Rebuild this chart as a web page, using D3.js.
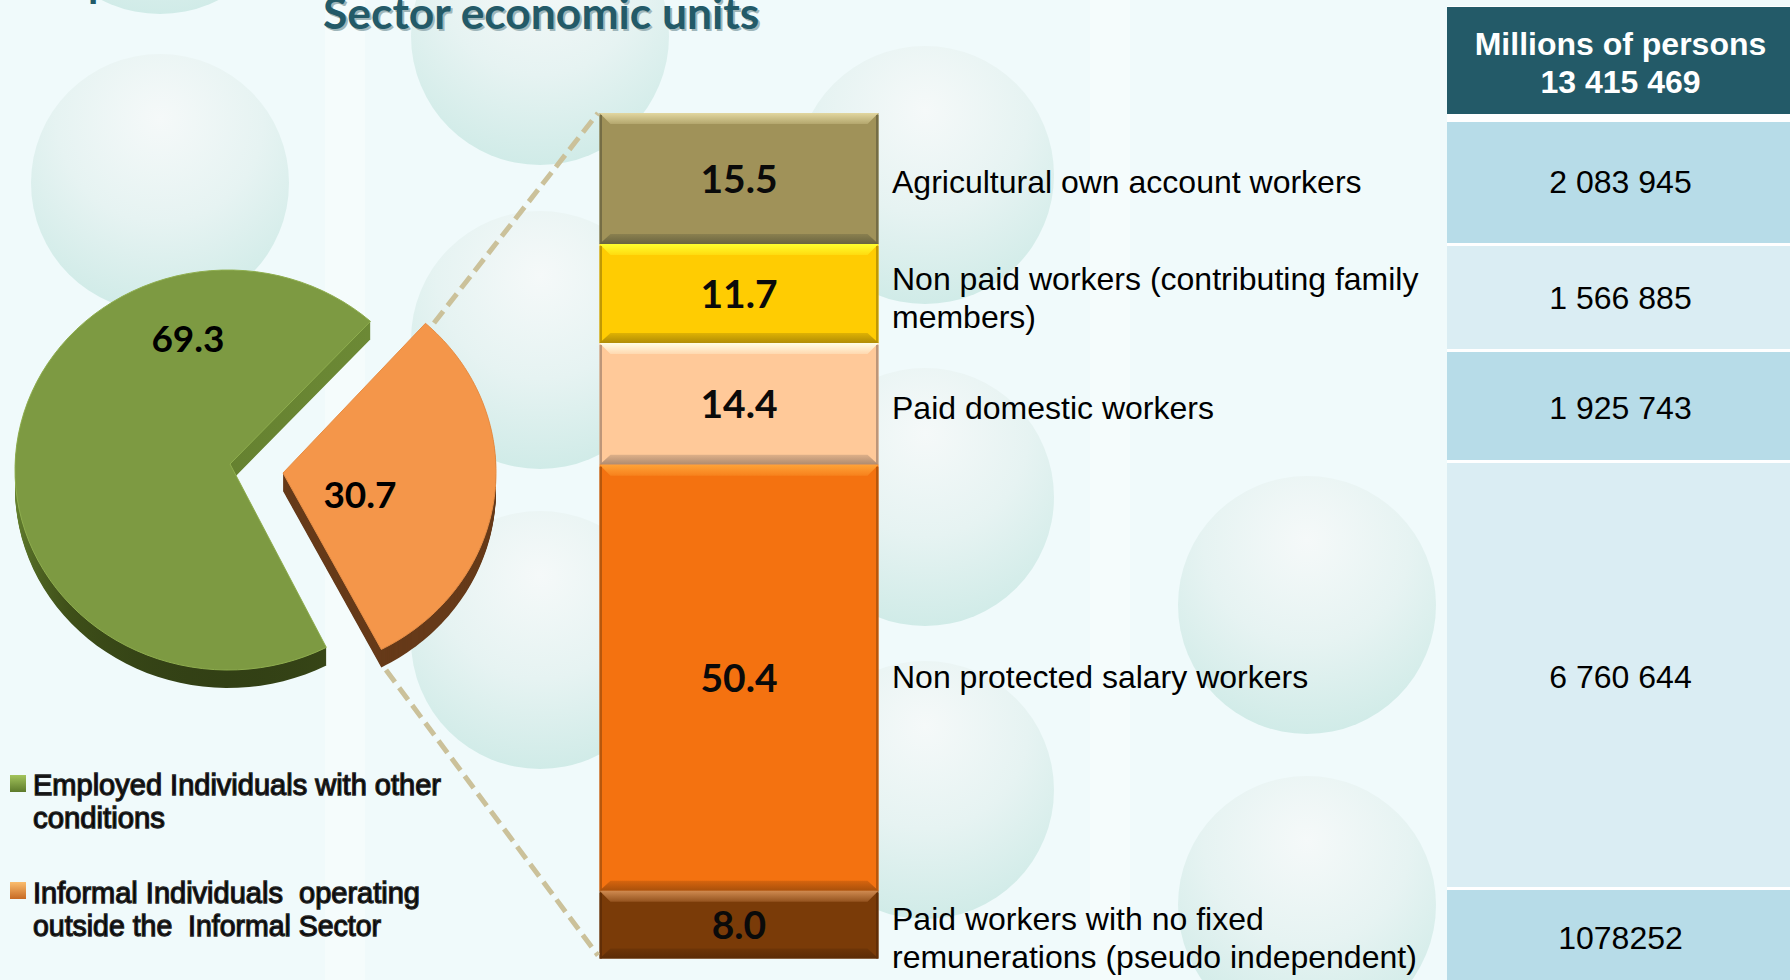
<!DOCTYPE html>
<html>
<head>
<meta charset="utf-8">
<script src="https://cdn.jsdelivr.net/npm/d3@7"></script>
<style>
html, body { margin: 0; padding: 0; background: #f0fafb; overflow: hidden; }
svg { display: block; }
</style>
</head>
<body>
<script>
// values
var pieValues = [69.3, 30.7];
var barValues = [15.5, 11.7, 14.4, 50.4, 8.0];
var barLabels = [
    ["Agricultural own account workers"],
    ["Non paid workers (contributing family", "members)"],
    ["Paid domestic workers"],
    ["Non protected salary workers"],
    ["Paid workers with no fixed", "remunerations (pseudo independent)"]
];
var personValues = ["2 083 945", "1 566 885", "1 925 743", "6 760 644", "1078252"];
var tableHeader = ["Millions of persons", "13 415 469"];
var legendLines = [["Employed Individuals with other", "conditions"], ["Informal Individuals  operating", "outside the  Informal Sector"]];
var title = "Sector economic units";

var width = 1790, height = 980;
var svg = d3.select("body").append("svg")
    .attr("width", width)
    .attr("height", height);
var defs = svg.append("defs");

function vGradient(id, stops, user) {
    var grad = defs.append("linearGradient").attr("id", id);
    if (user) {
        grad.attr("gradientUnits", "userSpaceOnUse").attr("x1", 0).attr("y1", user[0]).attr("x2", 0).attr("y2", user[1]);
    } else {
        grad.attr("x1", 0).attr("y1", 0).attr("x2", 0).attr("y2", 1);
    }
    stops.forEach(function (s) {
        grad.append("stop").attr("offset", s[0]).attr("stop-color", s[1]);
    });
}

// background bubbles and stripes
var bubbles = [[160, -115], [160, 183], [540, 36], [540, 340], [540, 640], [925, 175], [925, 497], [925, 790], [1307, 605], [1307, 905]];

var bubbleGrad = defs.append("radialGradient")
    .attr("id", "bubble")
    .attr("cx", "50%").attr("cy", "25%").attr("r", "80%");
bubbleGrad.append("stop").attr("offset", "0%").attr("stop-color", "#f5f9f9");
bubbleGrad.append("stop").attr("offset", "50%").attr("stop-color", "#e6f3f2");
bubbleGrad.append("stop").attr("offset", "100%").attr("stop-color", "#cdeae6");

svg.append("rect").attr("width", width).attr("height", height).attr("fill", "#f0fafb");
svg.selectAll("circle.bubble")
    .data(bubbles)
    .enter()
    .append("circle")
    .attr("class", "bubble")
    .attr("cx", d => d[0])
    .attr("cy", d => d[1])
    .attr("r", 129)
    .attr("fill", "url(#bubble)");
svg.selectAll("rect.stripe")
    .data([[325, 40], [1090, 40]])
    .enter()
    .append("rect")
    .attr("class", "stripe")
    .attr("x", d => d[0])
    .attr("y", 0)
    .attr("width", d => d[1])
    .attr("height", height)
    .attr("fill", "#fff")
    .attr("opacity", 0.35);

// title, with its little shadow
svg.append("text").attr("x", 325).attr("y", 31).text(title)
    .style("font", "bold 44.4px Lato").attr("fill", "#9fb6ba");
svg.append("text").attr("x", 323).attr("y", 29).text(title)
    .style("font", "bold 44.4px Lato").attr("fill", "#235a68");
svg.append("text").attr("x", 88).attr("y", -3).text("p")
    .style("font", "bold 42px Lato").attr("fill", "#235a68");

// pie, tilted into ellipses with a side wall
var depth = 18;
var pieSlices = [
    {top: "#7d9a42", rim: "#8fae4f", side: "url(#greenSide)", apex: [230, 464], cx: 228, cy: 470, rx: 213, ry: 200},
    {top: "#f4964a", rim: "#e88f46", side: "#663a19", apex: [283, 473], cx: 283, cy: 472, rx: 213, ry: 200}
];
vGradient("greenSide", [["0%", "#6d8a36"], ["50%", "#64802f"], ["78%", "#3f5019"], ["100%", "#2f3c14"]], [300, 687]);

var pie = d3.pie().sort(null)
    .startAngle(152.5 * Math.PI / 180)
    .endAngle(512.5 * Math.PI / 180);
var line = d3.line();

function slicePath(a, s) {
    var steps = d3.range(0, 81).map(function (k) {
        var t = a.startAngle + (a.endAngle - a.startAngle) * k / 80;
        return [s.cx + s.rx * Math.sin(t), s.cy - s.ry * Math.cos(t)];
    });
    return line([s.apex].concat(steps)) + "Z";
}

pie(pieValues).forEach(function (a, i) {
    var s = pieSlices[i];
    var d = slicePath(a, s);
    var g = svg.append("g");
    // wall, stacked copies of the slice going down
    d3.range(depth, 0, -1).forEach(function (dy) {
        g.append("path")
            .attr("d", d)
            .attr("transform", "translate(0," + dy + ")")
            .attr("fill", s.side);
    });
    g.append("path")
        .attr("d", d)
        .attr("fill", s.top)
        .attr("stroke", s.rim)
        .attr("stroke-width", 1);
});

// pie value labels
svg.selectAll("text.pieval")
    .data(pieValues)
    .enter()
    .append("text")
    .attr("class", "pieval")
    .attr("x", (d, i) => [188, 360][i])
    .attr("y", (d, i) => [352, 508][i])
    .attr("text-anchor", "middle")
    .style("font", "bold 37px Lato")
    .attr("fill", "#000")
    .text(d => d.toFixed(1));

// stacked bar
var barX = 599.5, barW = 279;
var y = d3.scaleLinear().domain([0, 100]).range([113, 958.5]);
var barColors = [
    {base: "#a09259", hi: "#e2d7a0", lo: "#6a6440"},
    {base: "#ffcc02", hi: "#ffff2e", lo: "#b08c05"},
    {base: "#ffc999", hi: "#fffde6", lo: "#ad8a70"},
    {base: "#f47210", hi: "#ffa338", lo: "#a9500b"},
    {base: "#7a3b08", hi: "#cf8a50", lo: "#5c2c06"}
];
var cum = d3.cumsum(barValues);

barValues.forEach(function (v, i) {
    var c = barColors[i];
    var y0 = y(cum[i] - v), y1 = y(cum[i]);
    var x0 = barX, x1 = barX + barW;
    var b = 11;
    var g = svg.append("g");
    g.append("rect")
        .attr("x", x0).attr("y", y0)
        .attr("width", barW).attr("height", y1 - y0)
        .attr("fill", c.base);
    vGradient("hi" + i, [["0%", c.hi], ["100%", d3.interpolateRgb(c.hi, c.base)(0.7)]]);
    vGradient("lo" + i, [["0%", d3.interpolateRgb(c.base, c.lo)(0.4)], ["100%", c.lo]]);
    g.append("path")
        .attr("d", line([[x0, y0], [x1, y0], [x1 - b, y0 + b], [x0 + b, y0 + b]]) + "Z")
        .attr("fill", "url(#hi" + i + ")");
    g.append("path")
        .attr("d", line([[x0, y1], [x1, y1], [x1 - b, y1 - 10], [x0 + b, y1 - 10]]) + "Z")
        .attr("fill", "url(#lo" + i + ")");
    g.append("rect").attr("x", x0).attr("y", y0 + 2).attr("width", 2.5).attr("height", y1 - y0 - 2)
        .attr("fill", c.lo).attr("opacity", 0.8);
    g.append("rect").attr("x", x1 - 2.5).attr("y", y0 + 2).attr("width", 2.5).attr("height", y1 - y0 - 2)
        .attr("fill", c.lo).attr("opacity", 0.8);
    g.append("text")
        .attr("x", barX + barW / 2)
        .attr("y", (y0 + y1) / 2 + 14)
        .attr("text-anchor", "middle")
        .style("font", "bold 39px Lato")
        .attr("fill", "#0a0a0a")
        .text(v.toFixed(1));
});

// dashed connectors from orange slice to bar
svg.selectAll("line.conn")
    .data([[434, 323, y(0)], [386, 670, y(100) - 3]])
    .enter()
    .append("line")
    .attr("class", "conn")
    .attr("x1", d => d[0])
    .attr("y1", d => d[1])
    .attr("x2", 598)
    .attr("y2", d => d[2])
    .attr("stroke", "#cbc19a")
    .attr("stroke-width", 5)
    .attr("stroke-dasharray", "15,7");

// table on the right
var tableX = 1447;
var tableMid = (tableX + width) / 2 + 2;
var rowTops = [122, 246, 352, 463, 890];
var rowBottoms = [243, 349, 460, 887, 980];
var textMids = [182, 298, 407.5, 676.5, 938];
var rowFill = ["#b7dce8", "#daedf3"];
var sans = "'Liberation Sans'";

svg.append("rect").attr("x", tableX).attr("y", 6).attr("width", width - tableX).attr("height", height - 6).attr("fill", "#fff");
svg.append("rect").attr("x", tableX).attr("y", 7).attr("width", width - tableX).attr("height", 107).attr("fill", "#235a68");
svg.selectAll("text.head")
    .data(tableHeader)
    .enter()
    .append("text")
    .attr("class", "head")
    .attr("x", tableMid)
    .attr("y", (d, i) => 55 + i * 38)
    .attr("text-anchor", "middle")
    .style("font", "bold 32px " + sans)
    .attr("fill", "#fff")
    .text(d => d);

svg.selectAll("rect.row")
    .data(personValues)
    .enter()
    .append("rect")
    .attr("class", "row")
    .attr("x", tableX)
    .attr("y", (d, i) => rowTops[i])
    .attr("width", width - tableX)
    .attr("height", (d, i) => rowBottoms[i] - rowTops[i])
    .attr("fill", (d, i) => rowFill[i % 2]);
svg.selectAll("text.rowval")
    .data(personValues)
    .enter()
    .append("text")
    .attr("class", "rowval")
    .attr("x", tableMid)
    .attr("y", (d, i) => textMids[i] + 11)
    .attr("text-anchor", "middle")
    .style("font", "32px " + sans)
    .attr("fill", "#000")
    .text(d => d);

// category labels beside the bar
barLabels.forEach(function (lines, i) {
    lines.forEach(function (t, j) {
        svg.append("text")
            .attr("x", 892)
            .attr("y", textMids[i] + 11 + (j - (lines.length - 1) / 2) * 38)
            .style("font", "32px " + sans)
            .attr("fill", "#000")
            .text(t);
    });
});

// legend
var legendColors = [["#a3c45c", "#5d7a2b"], ["#fbbd6e", "#c76a24"]];
var legendWidths = [[408, 132], [387, 348]];
legendColors.forEach(function (c, i) {
    vGradient("leg" + i, [["0%", c[0]], ["100%", c[1]]]);
    svg.append("rect")
        .attr("x", 10).attr("y", [775, 882][i])
        .attr("width", 16).attr("height", 17)
        .attr("fill", "url(#leg" + i + ")");
    legendLines[i].forEach(function (t, j) {
        svg.append("text")
            .attr("x", 33)
            .attr("y", [795, 903][i] + j * 33)
            .style("white-space", "pre")
            .style("font", "29px " + sans)
            .attr("fill", "#000")
            .attr("stroke", "#222")
            .attr("stroke-width", 1.3)
            .attr("textLength", legendWidths[i][j])
            .attr("lengthAdjust", "spacingAndGlyphs")
            .text(t);
    });
});
</script>
</body>
</html>
